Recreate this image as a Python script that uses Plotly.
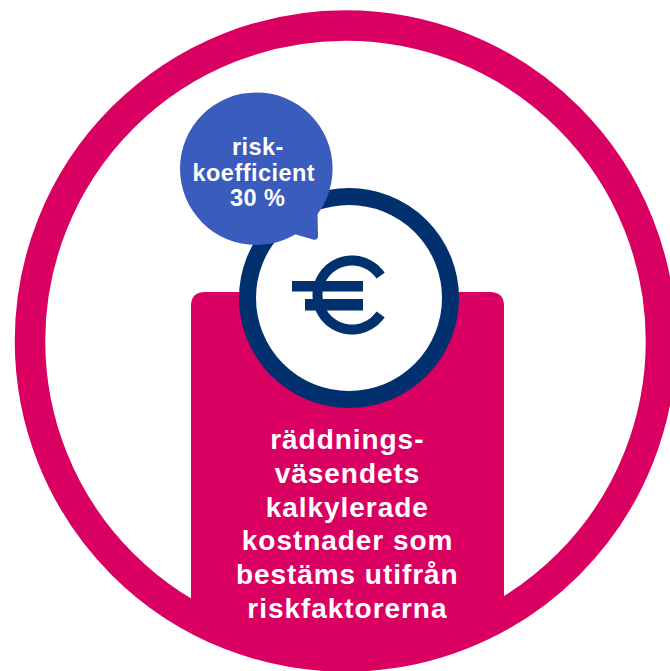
import numpy as np
import plotly.graph_objects as go

bubble_lines = ["risk-", "koefficient", "30 %"]
box_lines = ["räddnings-", "väsendets", "kalkylerade", "kostnader som", "bestäms utifrån", "riskfaktorerna"]
MAGENTA = "#D90062"
NAVY = "#00306E"
BLUE = "#3A5CBD"
FONT = "Liberation Sans"


def circle(cx, cy, r):
    return dict(type="circle", xref="x", yref="y", x0=cx - r, x1=cx + r, y0=cy - r, y1=cy + r)


shapes = []
# lower box, its bottom edge bowed so it ends inside the ring
shapes.append(dict(type="path", xref="x", yref="y", fillcolor=MAGENTA, line_width=0,
                   path="M 191 306 Q 191 292 205 292 L 490 292 Q 504 292 504 306 L 504 620 Q 347 670 191 620 Z"))
# big ring
shapes.append(dict(circle(345.5, 341, 315.5), fillcolor="rgba(0,0,0,0)", line=dict(color=MAGENTA, width=30.5)))
# coin
shapes.append(dict(circle(349, 298, 101.5), fillcolor="white", line=dict(color=NAVY, width=17)))
# euro arc
ang = np.radians(np.linspace(34, 326, 90))
px, py = 352 + 34.5 * np.cos(ang), 295 - 34.5 * np.sin(ang)
arc = "M " + " L ".join(f"{a:.2f} {b:.2f}" for a, b in zip(px, py))
shapes.append(dict(type="path", xref="x", yref="y", path=arc, line=dict(color=NAVY, width=10), fillcolor="rgba(0,0,0,0)"))
shapes.append(dict(type="rect", xref="x", yref="y", x0=292, x1=363, y0=281, y1=291.5, fillcolor=NAVY, line_width=0))
shapes.append(dict(type="rect", xref="x", yref="y", x0=305, x1=363, y0=299, y1=310.5, fillcolor=NAVY, line_width=0))
# speech bubble
shapes.append(dict(circle(256.3, 168.7, 76.3), fillcolor=BLUE, line_width=0))
shapes.append(dict(type="path", xref="x", yref="y", fillcolor=BLUE, line_width=0,
                   path="M 294 234 L 313 239.5 Q 318 240.5 318 236 L 317.5 212 Z"))

ann = []
for i, t in enumerate(bubble_lines):
    ann.append(dict(x=254 if i == 1 else 257.5, y=147 + i * 25.5, text=t, showarrow=False, xref="x", yref="y",
                    xanchor="center", yanchor="middle",
                    font=dict(family=FONT, size=23.5, color="white", weight="bold")))
for i, t in enumerate(box_lines):
    ann.append(dict(x=347.5, y=439.5 + i * 33.8, text=t, showarrow=False, xref="x", yref="y",
                    xanchor="center", yanchor="middle",
                    font=dict(family=FONT, size=28, color="white", weight="bold")))

fig = go.Figure()
fig.update_layout(width=670, height=671, margin=dict(l=0, r=0, t=0, b=0),
                  paper_bgcolor="white", plot_bgcolor="white", showlegend=False,
                  shapes=shapes, annotations=ann,
                  xaxis=dict(range=[0, 670], visible=False, fixedrange=True),
                  yaxis=dict(range=[671, 0], visible=False, fixedrange=True))
js = """document.body.style.margin='0';document.body.style.overflow='hidden';
document.querySelectorAll('.annotation-text').forEach(function(t){
  t.style.letterSpacing = parseFloat(t.style.fontSize) > 25 ? '0.95px' : '0.45px';
});"""
fig.write_html("out.html", config=dict(displayModeBar=False), post_script=js)
